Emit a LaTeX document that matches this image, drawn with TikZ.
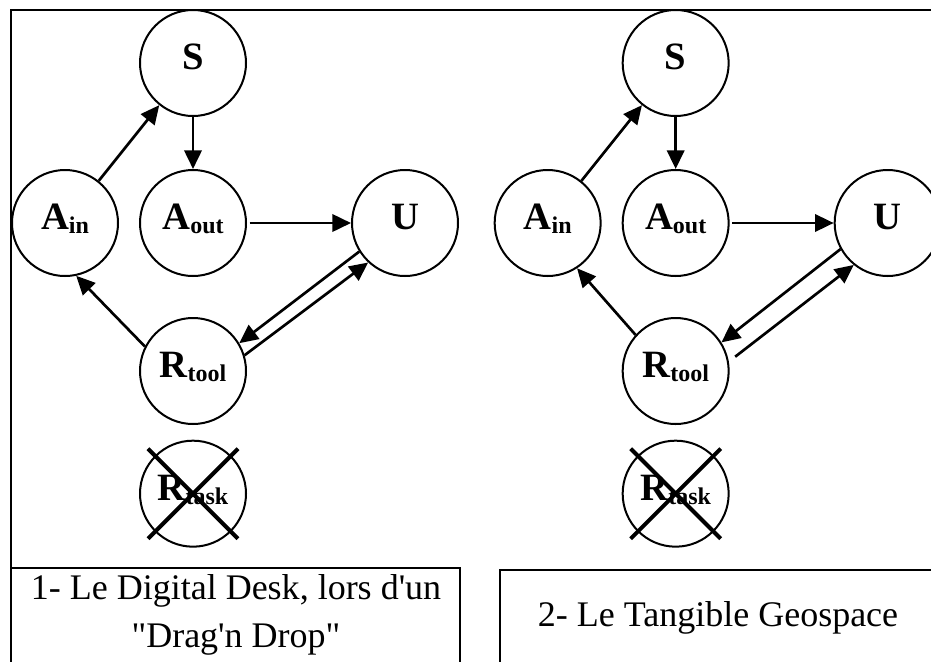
\documentclass[tikz,border=0pt]{standalone}
\usepackage{fontspec}
\setmainfont{Liberation Serif}[Ligatures=TeXOff]
\usetikzlibrary{positioning,arrows.meta}

\newcommand{\nodesub}[1]{\raisebox{-3pt}{\fontsize{18}{18}\selectfont#1}}

\begin{document}
\begin{tikzpicture}[x=0.75pt,y=-0.75pt,on grid,
   actor/.style={circle,draw,line width=1.5pt,minimum size=79.5pt,inner sep=0pt,
      font=\bfseries\fontsize{29}{29}\selectfont,text height=20pt,text depth=10pt},
   flow/.style={line width=2pt,-{Triangle[length=14pt,width=13pt]}},
   strike/.style={line width=3pt},
   frame/.style={line width=1.5pt},
   caption/.style={font=\fontsize{27}{36}\selectfont,align=center}]
   \useasboundingbox (0,0) rectangle (931,661);
   \clip (0,0) rectangle (931,661);

   % frames
   \draw[frame] (940,10) -- (11,10) -- (11,670);
   \draw[frame] (11,568) -- (460,568) -- (460,670);
   \draw[frame] (940,570) -- (500,570) -- (500,670);

   % 1- digital desk
   \node[actor] (Ain) at (65,223) {A\nodesub{in}};
   \node[actor] (Aout) [right=96pt of Ain] {A\nodesub{out}};
   \node[actor] (S) [above=120pt of Aout] {S};
   \node[actor] (U) [right=159pt of Aout] {U};
   \node[actor] (Rtool) [below=111pt of Aout] {R\nodesub{tool}};
   \node[actor] (Rtask) [below=92pt of Rtool] {R\nodesub{task}};

   \draw[flow] (Ain) -- (S);
   \draw[flow] (S) -- (Aout);
   \draw[flow,shorten <=2pt] (Aout) -- (U);
   \draw[flow] (Rtool.153) -- (Ain.-78);
   \draw[flow] (U.212) -- (Rtool.31);
   \draw[flow] (Rtool.17) -- (U.227);
   \draw[strike] ([shift={(-45,-45)}]Rtask.center) -- ([shift={(45,45)}]Rtask.center);
   \draw[strike] ([shift={(45,-45)}]Rtask.center) -- ([shift={(-45,45)}]Rtask.center);

   % 2- tangible geospace
   \node[actor] (Ain2) [right=362pt of Ain] {A\nodesub{in}};
   \node[actor] (Aout2) [right=96pt of Ain2] {A\nodesub{out}};
   \node[actor] (S2) [above=120pt of Aout2] {S};
   \node[actor] (U2) [right=159pt of Aout2] {U};
   \node[actor] (Rtool2) [below=111pt of Aout2] {R\nodesub{tool}};
   \node[actor] (Rtask2) [below=92pt of Rtool2] {R\nodesub{task}};

   \draw[flow] (Ain2) -- (S2);
   \draw[flow] (S2) -- (Aout2);
   \draw[flow,shorten <=2pt] (Aout2) -- (U2);
   \draw[flow] (Rtool2.138) -- (Ain2.-57);
   \draw[flow] (U2.209) -- (Rtool2.32);
   \draw[flow,shorten <=6pt] (Rtool2.10) -- (U2.231);
   \draw[strike] ([shift={(-45,-45)}]Rtask2.center) -- ([shift={(45,45)}]Rtask2.center);
   \draw[strike] ([shift={(45,-45)}]Rtask2.center) -- ([shift={(-45,45)}]Rtask2.center);

   % captions
   \node[caption] (cap1) at (236,615) {1- Le Digital Desk, lors d'un\\"Drag'n Drop"};
   \node[caption] (cap2) at (718,618) {2- Le Tangible Geospace};
\end{tikzpicture}
\end{document}
